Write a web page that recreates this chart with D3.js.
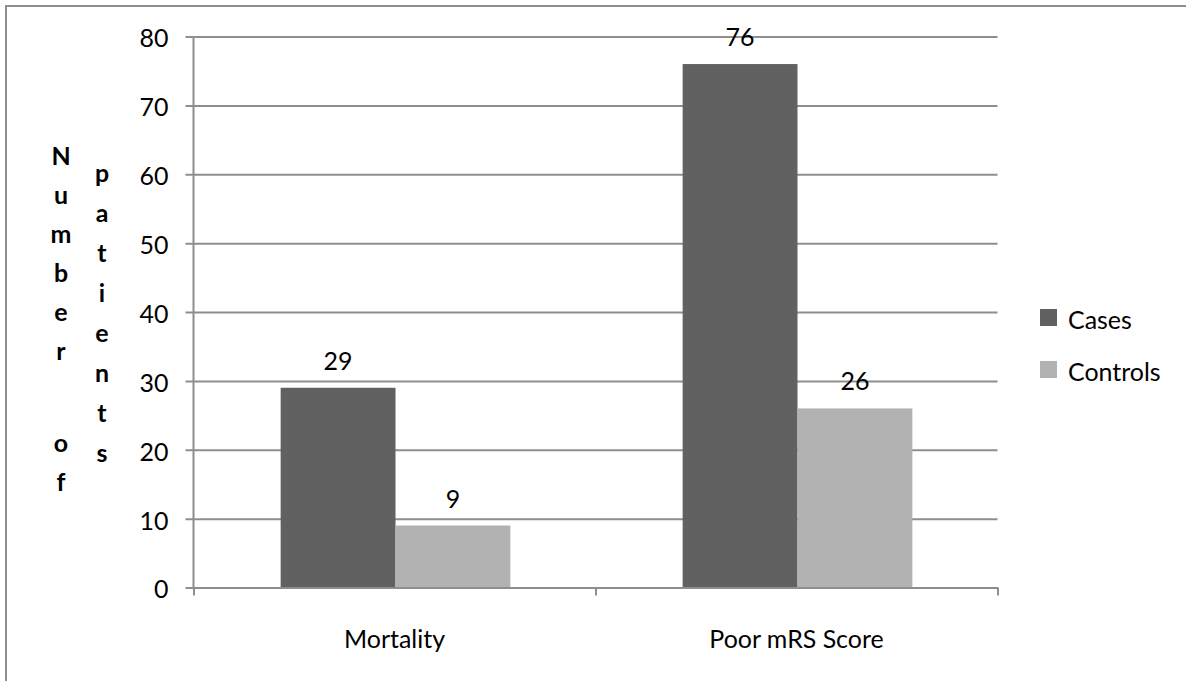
<!DOCTYPE html>
<html>
<head>
<meta charset="utf-8">
<script src="https://cdn.jsdelivr.net/npm/d3@7"></script>
<style>
  html, body { margin: 0; padding: 0; background: #ffffff; }
  svg { display: block; }
</style>
</head>
<body>
<svg id="chart" width="1186" height="681"></svg>
<script>
// ---- data ----
const categories = ["Mortality", "Poor mRS Score"];
const seriesNames = ["Cases", "Controls"];
const casesValues = [29, 76];
const controlsValues = [9, 26];
const yTickValues = [0, 10, 20, 30, 40, 50, 60, 70, 80];
const yTitleColumns = ["Number of", "patients"];

(function () {
const seriesColors = { "Cases": "#616161", "Controls": "#b2b2b2" };
const gridColor = "#8e8e8e";
const FONT = "Lato, 'Open Sans', sans-serif";

const svg = d3.select("#chart");

// measure-based font size so text widths match the reference (Calibri-like)
const probe = svg.append("text").attr("font-family", FONT).attr("font-size", 100).text("Mortality");
const w100 = probe.node().getComputedTextLength();
probe.remove();
const FS = Math.min(28, Math.max(18, 100 * 101 / w100));

// outer chart border (extends past the visible area at right and bottom)
svg.append("rect")
  .attr("x", 6).attr("y", 6).attr("width", 1200).attr("height", 700)
  .attr("fill", "none").attr("stroke", gridColor).attr("stroke-width", 2);

const pL = 193.5, pR = 997.5, pT = 36.5, pB = 587.5;

const y = d3.scaleLinear().domain([0, 80]).range([pB, pT]);
const x0 = d3.scaleBand().domain(categories).range([pL, pR]).paddingInner(0).paddingOuter(0);
const x1 = d3.scaleBand().domain(seriesNames).range([0, x0.bandwidth()]).paddingOuter(0.75).paddingInner(0);
const xEdges = d3.scaleLinear().domain([0, categories.length]).range([pL, pR]);

const rows = categories.map((c, i) => ({ cat: c, values: [
  { series: "Cases", value: casesValues[i] },
  { series: "Controls", value: controlsValues[i] }
]}));

// gridlines (with the outward tick marks at the left)
const grid = svg.append("g")
  .attr("transform", `translate(${pL - 8},0)`)
  .call(d3.axisRight(y).tickValues(yTickValues).tickSize(pR - pL + 8).tickFormat(""));
grid.select(".domain").remove();
grid.selectAll(".tick line").attr("stroke", gridColor).attr("stroke-width", 2);

// y tick labels
const yAx = svg.append("g")
  .attr("transform", `translate(${pL - 8},0)`)
  .call(d3.axisLeft(y).tickValues(yTickValues).tickSize(0).tickPadding(17));
yAx.select(".domain").remove();
yAx.selectAll("text")
  .attr("font-family", FONT).attr("font-size", FS).attr("fill", "#000")
  .attr("dy", "0.42em");

// bars
const groups = svg.append("g").selectAll("g").data(rows).join("g")
  .attr("transform", d => `translate(${x0(d.cat) + 1},0)`);
groups.selectAll("rect").data(d => d.values).join("rect")
  .attr("x", d => x1(d.series))
  .attr("y", d => y(d.value))
  .attr("width", x1.bandwidth())
  .attr("height", d => y(0) - y(d.value))
  .attr("fill", d => seriesColors[d.series]);

// data labels
groups.selectAll("text").data(d => d.values).join("text")
  .attr("x", d => x1(d.series) + x1.bandwidth() / 2)
  .attr("y", d => y(d.value) - 18)
  .attr("text-anchor", "middle")
  .attr("font-family", FONT).attr("font-size", FS).attr("fill", "#000")
  .text(d => d.value);

// y axis line
svg.append("line")
  .attr("x1", pL).attr("x2", pL).attr("y1", pT).attr("y2", pB)
  .attr("stroke", gridColor).attr("stroke-width", 2);

// x axis line and boundary ticks
const xAx = svg.append("g")
  .attr("transform", `translate(0,${pB})`)
  .call(d3.axisBottom(xEdges).tickValues(d3.range(categories.length + 1)).tickSize(8).tickSizeOuter(0).tickFormat(""));
xAx.select(".domain").attr("stroke", gridColor).attr("stroke-width", 2);
xAx.selectAll(".tick line").attr("stroke", gridColor).attr("stroke-width", 2);

// category labels
const xLab = svg.append("g")
  .attr("transform", `translate(0,${pB})`)
  .call(d3.axisBottom(x0).tickSize(0).tickPadding(0));
xLab.select(".domain").remove();
xLab.selectAll("text")
  .attr("font-family", FONT).attr("font-size", FS).attr("fill", "#000")
  .attr("y", 60).attr("dy", 0);

// y-axis title: stacked letters, two columns
const colX = [61, 102];
const colStart = [165, 182];
const colStep = [39, 40];
yTitleColumns.forEach((word, ci) => {
  let yy = colStart[ci];
  const pos = [];
  word.split("").forEach(ch => { pos.push({ ch, y: yy }); yy += (ch === " " ? 53 : colStep[ci]); });
  svg.append("g").selectAll("text").data(pos.filter(p => p.ch !== " ")).join("text")
    .attr("x", colX[ci]).attr("y", p => p.y)
    .attr("text-anchor", "middle")
    .attr("font-family", FONT).attr("font-size", FS).attr("font-weight", "bold").attr("fill", "#000")
    .text(p => p.ch);
});

// legend
const legend = svg.append("g").selectAll("g").data(seriesNames).join("g")
  .attr("transform", (d, i) => `translate(1040,${309 + i * 52})`);
legend.append("rect").attr("width", 17).attr("height", 17).attr("fill", d => seriesColors[d]);
legend.append("text")
  .attr("x", 28).attr("y", 20)
  .attr("font-family", FONT).attr("font-size", FS).attr("fill", "#000")
  .text(d => d);
})();
</script>
</body>
</html>
